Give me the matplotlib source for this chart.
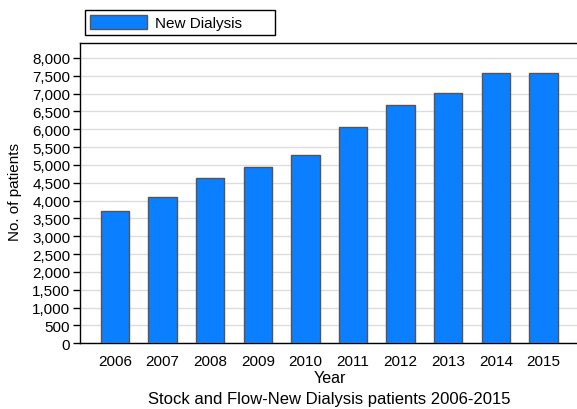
import matplotlib
matplotlib.use("Agg")
import matplotlib.pyplot as plt
from matplotlib.ticker import FuncFormatter, MultipleLocator

years = ["2006", "2007", "2008", "2009", "2010", "2011", "2012", "2013", "2014", "2015"]
new_dialysis = [3710, 4095, 4627, 4935, 5290, 6057, 6691, 7010, 7590, 7571]
series_name = "New Dialysis"
x_title = "Year"
y_title = "No. of patients"
caption = "Stock and Flow-New Dialysis patients 2006-2015"

plt.rcParams['font.family'] = ['Liberation Sans', 'DejaVu Sans']
FS = 11

W, H = 577, 410
fig = plt.figure(figsize=(W / 100, H / 100), dpi=100)
ax = fig.add_axes([80 / W, (H - 344.3) / H, (W - 80) / W, (344.3 - 44) / H])

xs = list(range(len(years)))
ax.bar(xs, new_dialysis, width=0.6, color="#0A7FFF", edgecolor="#555555",
       linewidth=1.0, label=series_name, zorder=3)

ax.set_xlim(-0.735, 9.706)
ax.set_ylim(0, 8420)
ax.yaxis.set_major_locator(MultipleLocator(500))
ax.yaxis.set_major_formatter(FuncFormatter(lambda v, p: f"{int(v):,}"))
ax.set_xticks(xs)
ax.set_xticklabels(years)
ax.tick_params(axis='x', length=0, pad=8, labelsize=FS, colors='black')
ax.tick_params(axis='y', length=5, width=1, pad=2, labelsize=FS, colors='black')
ax.grid(axis='y', color='#DDDDDD', linewidth=1.0, zorder=0)
ax.set_axisbelow(True)
for s in ['left', 'top', 'bottom']:
    ax.spines[s].set_color('black')
    ax.spines[s].set_linewidth(1.0)
ax.spines['right'].set_visible(False)

fig.text(15 / W, 1 - 192 / H, y_title, rotation=90, ha='center', va='center', fontsize=FS)
fig.text(330 / W, 1 - 379 / H, x_title, ha='center', va='center', fontsize=11.6)
fig.text(329 / W, 1 - 400 / H, caption, ha='center', va='center', fontsize=12)

leg = fig.legend(loc='upper left',
                 bbox_to_anchor=(85 / W, 1 - 39 / H, 190 / W, 28.3 / H),
                 mode='expand', borderaxespad=0, fontsize=FS,
                 handlelength=3.7, handleheight=1.0, handletextpad=0.55,
                 borderpad=0.35, fancybox=False, framealpha=1, edgecolor='black')
leg.get_frame().set_linewidth(1.0)

fig.savefig("out.png", dpi=100)
